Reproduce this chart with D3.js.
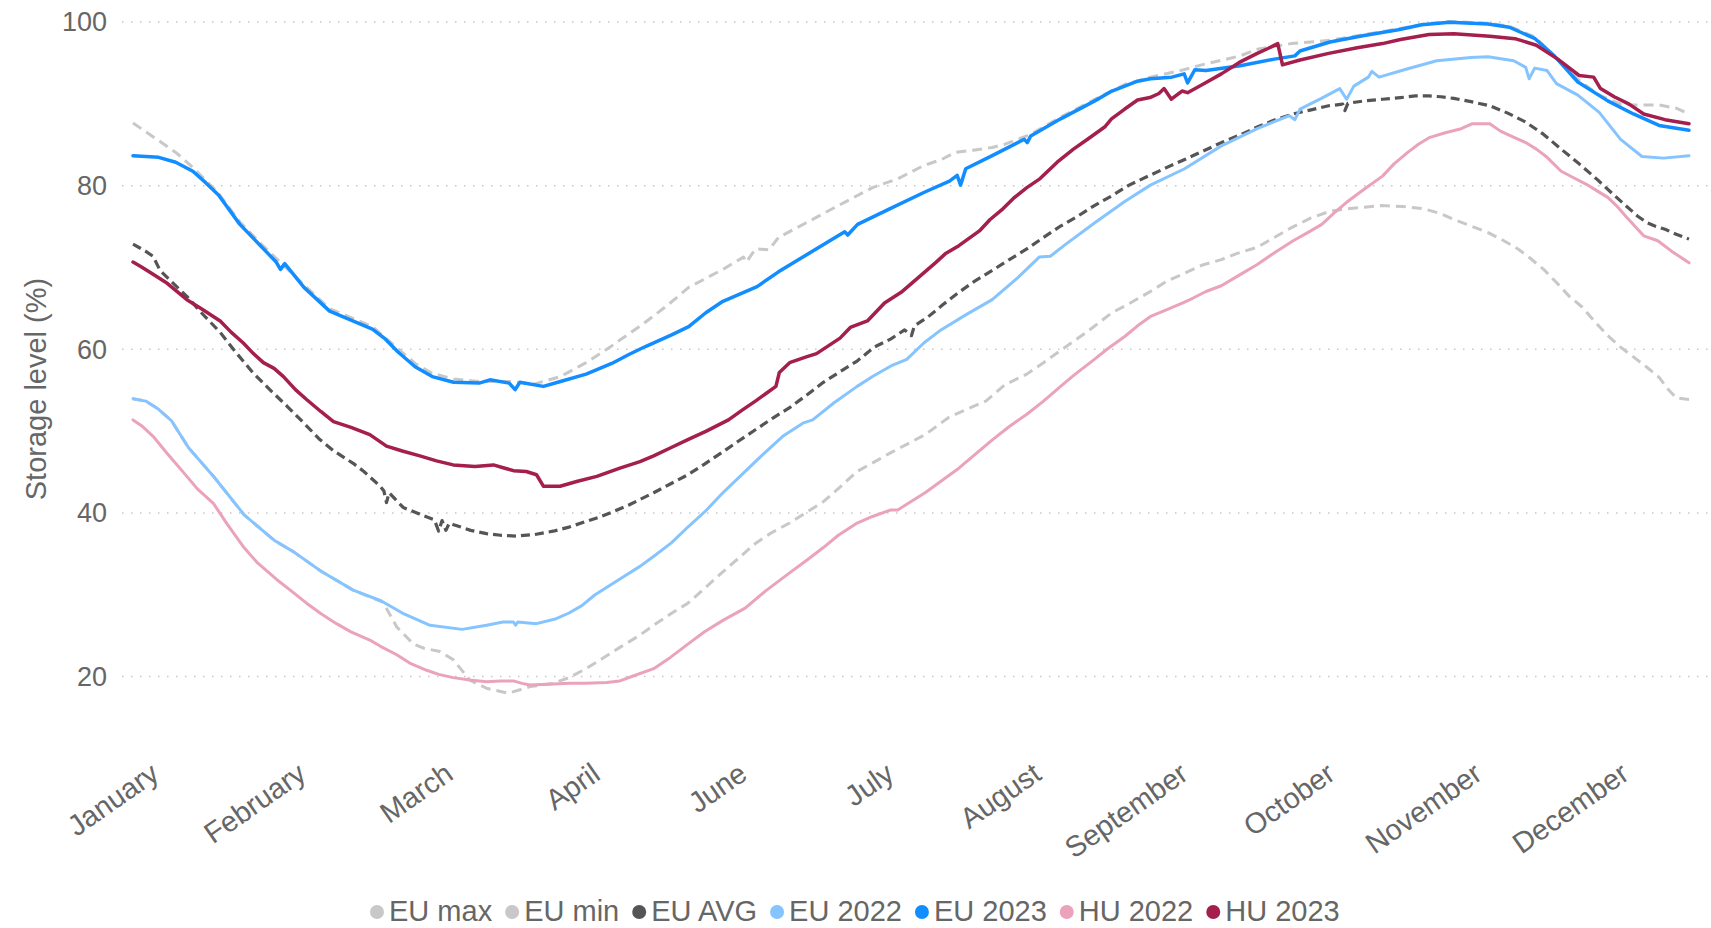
<!DOCTYPE html>
<html><head><meta charset="utf-8">
<script src="https://cdn.jsdelivr.net/npm/d3@7/dist/d3.min.js"></script>
<style>body{margin:0;background:#fff;} svg{display:block;font-family:"Liberation Sans",Arial,sans-serif;}</style>
</head><body><svg id="chart" width="1711" height="928"></svg>
<script>
// ---- data (day of year, storage level %) ----
const monthLabels = ["January","February","March","April","June","July","August","September","October","November","December"];
const yTicks = [20,40,60,80,100];
const seriesNames = ["EU max","EU min","EU AVG","EU 2022","EU 2023","HU 2022","HU 2023"];

const euMax = [[0,87.6],[5,85.8],[10,84.0],[13.7,82.3],[17,80.6],[20,79.0],[25,75.5],[30,72.8],[34,70.8],[40,67.8],[46,64.9],[51,63.8],[56,62.7],[62,60.0],[66,58.2],[70,57.0],[75,56.3],[81,56.0],[88,56.0],[94,55.7],[100,56.6],[106,58.3],[111.6,60.2],[114,61.1],[119,62.9],[125,65.3],[130,67.5],[138,69.7],[142.8,71.2],[143.5,70.6],[145.6,72.2],[148.8,72.1],[151,73.6],[157.5,75.4],[165,77.5],[173,79.7],[179,80.8],[185,82.4],[189,83.1],[192.4,84.0],[197,84.3],[201,84.6],[204,85.0],[210,86.2],[217,88.3],[225,90.5],[232,92.3],[238,93.2],[245,94.0],[250,94.7],[255,95.3],[259,95.8],[263,96.6],[271,97.3],[280,97.7],[288,98.4],[296,99.1],[302,99.7],[308,100.0],[317,99.8],[322,99.4],[328,98.1],[332,96.0],[338,92.9],[343,91.0],[348,89.9],[351,89.8],[357,89.8],[361,89.4],[364,88.7]];

const euMin = [[0,53.9],[3,53.6],[6,52.6],[9,51.2],[13,47.9],[19,44.3],[26,39.7],[33,36.6],[37.5,35.2],[44,32.8],[51.5,30.5],[58.5,29.0],[61.7,26.0],[65.6,23.9],[68,23.4],[71.8,23.0],[74.9,22.0],[78.8,19.5],[82.7,18.5],[87.8,17.9],[92.9,18.7],[98.3,19.1],[102,19.8],[106,20.9],[110,22.2],[113.9,23.5],[118.6,25.0],[121.8,26.2],[125.8,27.6],[129.8,28.9],[133.7,30.7],[137.7,32.6],[145.6,36.2],[149,37.4],[153.6,38.7],[157.5,40.0],[161.5,41.3],[165.4,43.1],[169.4,45.0],[177.3,47.3],[185.3,49.5],[190.8,51.6],[195,52.6],[199.5,53.6],[204,55.6],[209.1,56.9],[213,58.3],[217,59.8],[223,62.0],[229,64.4],[233,65.5],[238,67.0],[242,68.3],[246.3,69.3],[250,70.2],[254.6,70.9],[258,71.6],[263,72.4],[267,73.6],[271,74.8],[275.6,76.0],[280,76.8],[284,77.1],[288,77.3],[292,77.5],[297,77.4],[302,77.1],[306,76.5],[309,75.8],[313,75.0],[317,74.2],[320,73.4],[324,72.2],[327,71.0],[330,69.7],[333,68.1],[336,66.4],[339,65.1],[342,63.3],[345,61.6],[348,60.2],[351,59.0],[354,57.8],[357,56.5],[359,55.1],[361,54.0],[364,53.8]];

const euAvg = [[0,72.8],[3,71.9],[4.7,71.3],[6.3,69.6],[9,68.2],[12.6,66.4],[16,64.4],[20.4,62.0],[24,59.6],[28,57.1],[32,55.0],[36,53.0],[40,50.9],[43.7,48.9],[47,47.5],[51.5,46.0],[54,45.0],[57.8,43.2],[58.7,42.6],[59.3,41.2],[59.9,42.4],[63.2,40.6],[67,39.8],[70.5,39.1],[71.5,37.7],[72.3,39.0],[73.2,37.8],[74,38.7],[75,38.5],[79,37.8],[82.7,37.4],[86,37.2],[89.7,37.1],[94,37.3],[98.3,37.7],[102,38.2],[106,38.9],[109,39.4],[112.4,40.1],[116,40.9],[121.8,42.4],[125.8,43.5],[129.8,44.6],[133.7,45.9],[137.7,47.3],[141.6,48.7],[145.6,50.1],[149.6,51.5],[153.6,52.8],[157.5,54.3],[161.5,55.9],[165.4,57.2],[169.4,58.5],[173.4,60.2],[177.3,61.2],[180.5,62.3],[182.1,61.6],[182.8,62.8],[186,63.9],[189.5,65.4],[193.2,66.9],[197,68.3],[201.1,69.6],[205,70.9],[209.1,72.2],[213,73.6],[217,75.0],[221,76.2],[224.9,77.5],[229,78.7],[233,80.0],[237.9,81.2],[242,82.2],[246.3,83.2],[250.5,84.2],[254.6,85.2],[258.8,86.1],[263,87.1],[267.2,88.0],[271.4,88.7],[275.6,89.2],[279.7,89.7],[283,89.9],[283.5,89.1],[284.2,90.0],[288.1,90.3],[292.3,90.5],[296.5,90.7],[300,90.9],[303.2,90.9],[306,90.8],[309,90.6],[313,90.2],[317.4,89.7],[321.6,88.8],[325.8,87.7],[330,86.2],[334.1,84.4],[338.3,82.6],[342.5,80.7],[345.8,79.1],[349.2,77.5],[352,76.2],[354.2,75.4],[356,75.0],[358.4,74.6],[361,74.0],[364,73.4]];

const eu2022 = [[0,53.9],[3,53.6],[6,52.6],[9,51.2],[13,47.9],[19,44.3],[26,39.7],[33,36.6],[37.5,35.2],[44,32.8],[51.5,30.5],[58,29.2],[63,27.7],[69.5,26.2],[77,25.7],[82.7,26.2],[86.6,26.6],[89,26.6],[89.5,26.2],[90,26.6],[94.4,26.4],[99,27.0],[102,27.7],[105,28.6],[108,29.9],[114,31.9],[118.6,33.4],[122,34.7],[126,36.3],[130,38.3],[134,40.2],[138,42.4],[142,44.4],[147,46.9],[152,49.3],[156.7,50.9],[159,51.3],[164,53.4],[169.4,55.4],[173,56.6],[177.3,57.9],[181,58.7],[185,60.7],[189,62.3],[195,64.2],[201,66.0],[207,68.7],[212,71.2],[214.6,71.3],[218,72.7],[225,75.4],[232,78.0],[238,80.0],[246,82.0],[254.6,84.8],[263,86.9],[270.5,88.5],[271.8,88.0],[273,89.3],[278,90.6],[282.3,91.8],[283.9,90.5],[285.6,92.1],[289,93.2],[289.8,93.9],[291.5,93.2],[298,94.2],[305,95.2],[313,95.6],[317,95.7],[323,95.2],[325.8,94.4],[326.6,93.0],[327.9,94.3],[330.8,94.0],[333,92.4],[338,91.0],[343,88.9],[348,85.6],[353,83.5],[358,83.3],[364,83.6]];

const eu2023 = [[0,83.6],[6,83.4],[10,82.8],[14,81.7],[17,80.3],[20,78.8],[25,75.2],[30,72.5],[33.5,70.6],[34.5,69.7],[35.5,70.4],[40,67.5],[46,64.6],[51,63.5],[56,62.4],[59,61.2],[62,59.6],[66,57.8],[70,56.6],[75,55.9],[81,55.8],[83.5,56.2],[88,55.8],[89.4,55.0],[90.5,55.9],[96,55.4],[100,56.0],[106,56.9],[112,58.2],[116,59.3],[120,60.3],[126,61.7],[130,62.7],[134,64.4],[138,65.8],[146,67.6],[151,69.4],[157,71.3],[163,73.2],[166.5,74.3],[167.2,73.9],[169.5,75.2],[177,77.1],[185,79.1],[191,80.5],[192.8,81.2],[193.6,80.0],[194.8,82.0],[201,83.6],[208.5,85.6],[209.2,85.2],[210,86.0],[217,88.1],[225,90.3],[229,91.5],[235,92.7],[238,93.0],[243,93.2],[245.9,93.6],[246.7,92.5],[248.4,94.1],[251,94.0],[259,94.6],[267,95.4],[271.8,95.8],[273,96.4],[280,97.5],[288,98.3],[296,99.0],[301.5,99.6],[308,99.9],[317,99.7],[322,99.3],[328,97.9],[332.5,95.8],[338,92.6],[345,90.3],[351,88.7],[357,87.3],[364,86.7]];

const hu2022 = [[0,51.3],[2,50.6],[4.7,49.3],[8,47.2],[12.6,44.4],[15,42.9],[18.8,41.1],[22,38.6],[25.8,35.8],[29,33.9],[33.6,31.8],[37,30.4],[40.6,28.9],[44,27.6],[47.6,26.4],[51,25.4],[55.4,24.4],[58,23.6],[61.7,22.6],[65,21.5],[68.7,20.7],[71.5,20.2],[74.9,19.8],[78.8,19.5],[82.7,19.3],[86,19.4],[89,19.4],[91,19.1],[92.9,18.9],[97,19.0],[102.2,19.1],[106,19.1],[110.8,19.2],[113.9,19.4],[117,20.0],[121.8,20.9],[125.8,22.3],[129.8,23.9],[133.7,25.4],[138,26.8],[143.2,28.3],[148,30.4],[153.6,32.6],[158,34.3],[161.5,35.7],[165,37.2],[169.4,38.7],[173,39.5],[177.3,40.3],[178.9,40.3],[181,41.0],[185.3,42.4],[189,43.8],[193.2,45.4],[197,47.1],[201.1,48.9],[205,50.5],[209.1,52.0],[213,53.6],[217,55.4],[220.2,56.8],[224.9,58.7],[228,60.0],[232,61.5],[235,62.8],[238.2,64.0],[242,64.8],[246,65.7],[248,66.2],[251,67.0],[254.6,67.7],[258.8,69.0],[263,70.3],[267.2,71.8],[271.4,73.2],[274.8,74.2],[278.1,75.2],[281,76.6],[283.9,77.9],[288,79.5],[292.3,81.1],[295,82.6],[298.2,84.0],[300.7,85.0],[303.2,85.8],[307,86.4],[310.7,86.9],[313.2,87.5],[317.4,87.5],[319.9,86.6],[322.8,85.9],[325.8,85.2],[328.3,84.4],[330.8,83.4],[334.1,81.7],[337,80.9],[340,80.1],[342.5,79.3],[345,78.5],[347,77.5],[349.2,76.2],[351.3,75.0],[353.4,73.8],[356.7,73.2],[360,71.9],[364,70.5]];

const hu2023 = [[0,70.6],[2,70.0],[4.7,69.1],[8,68.0],[12.6,66.0],[16,64.9],[20.4,63.4],[23,62.0],[25.8,60.7],[28,59.5],[30.5,58.3],[33,57.6],[35.2,56.6],[38,55.0],[40.6,53.8],[44,52.3],[46.9,51.1],[51,50.4],[55.4,49.5],[59.3,48.1],[63,47.5],[67.1,46.9],[71,46.3],[74.9,45.8],[80,45.6],[84.3,45.8],[87,45.4],[89,45.1],[92,45.0],[94.4,44.6],[96,43.2],[99.9,43.2],[104,43.8],[108.5,44.4],[113.9,45.4],[118.6,46.2],[121.8,46.9],[125.8,47.9],[129.8,48.9],[134,49.9],[139.3,51.3],[142.5,52.5],[145.6,53.6],[148,54.5],[150.4,55.4],[151.2,57.1],[153.6,58.3],[157.5,59.0],[159.9,59.4],[163.1,60.5],[165.4,61.3],[167.8,62.6],[171.8,63.4],[175.8,65.6],[179.7,66.9],[183.7,68.7],[187.7,70.5],[190,71.6],[193.2,72.6],[198,74.4],[200.5,75.8],[203.5,77.1],[206,78.4],[209.1,79.7],[212.2,80.8],[216.2,82.8],[220,84.4],[223.3,85.6],[227.3,87.1],[228.9,88.1],[232,89.3],[235,90.4],[237.9,90.7],[240,91.2],[241.2,91.8],[242.9,90.5],[245.4,91.5],[246.7,91.3],[250.5,92.4],[254.6,93.6],[258.8,95.0],[263,96.1],[265.5,96.7],[267.8,97.3],[268.9,94.7],[273,95.3],[279.7,96.1],[286.4,96.8],[292.3,97.3],[296.5,97.8],[303.2,98.4],[309,98.5],[317.4,98.2],[323.3,97.9],[328.3,97.1],[333.3,95.4],[338.3,93.4],[341.7,93.2],[343.3,91.8],[346.5,90.8],[350,89.9],[353.4,88.7],[358.4,88.0],[364,87.5]];

const seriesData = [euMax, euMin, euAvg, eu2022, eu2023, hu2022, hu2023];

// ---- styles ----
const seriesStyle = {
  "EU max": {color:"#C8C8C8", width:3, dash:"10,6"},
  "EU min": {color:"#C8C8C8", width:3, dash:"10,6"},
  "EU AVG": {color:"#555555", width:3.2, dash:"9,5"},
  "EU 2022": {color:"#86C4FF", width:3, dash:null},
  "EU 2023": {color:"#118DFF", width:3.5, dash:null},
  "HU 2022": {color:"#EBA2BC", width:3, dash:null},
  "HU 2023": {color:"#A41E4E", width:3.5, dash:null}
};
const textColor = "#666666";

const svg = d3.select("#chart");
svg.append("rect").attr("width",1711).attr("height",928).attr("fill","#fff");

const x = d3.scaleLinear().domain([0,364]).range([133,1689]);
const y = d3.scaleLinear().domain([20,100]).range([676,21.5]);

// y axis + gridlines
const gy = svg.append("g").attr("transform","translate(122,0)")
  .call(d3.axisLeft(y).tickValues(yTicks).tickSize(-1589).tickPadding(15));
gy.select(".domain").remove();
gy.selectAll(".tick line").attr("stroke","#C8C8C8").attr("stroke-width",1.5).attr("stroke-dasharray","1.5,7.5");
gy.selectAll(".tick text").attr("fill",textColor).style("font-size","27px").attr("dy","0.35em");

// x axis (month labels)
const xm = d3.scalePoint().domain(monthLabels).range([160.5,1630.5]);
const gx = svg.append("g").attr("transform","translate(0,778)")
  .call(d3.axisBottom(xm).tickSize(0).tickPadding(0));
gx.select(".domain").remove();
gx.selectAll(".tick text").attr("fill",textColor).style("font-size","29px")
  .attr("x",0).attr("y",0).attr("dy",0).attr("text-anchor","end").attr("transform","rotate(-35)");

// y title
svg.append("text").attr("transform","translate(36,389) rotate(-90)")
  .attr("text-anchor","middle").attr("dominant-baseline","central")
  .attr("fill",textColor).style("font-size","29px").text("Storage level (%)");

// lines
const line = d3.line().x(d=>x(d[0])).y(d=>y(d[1]));
seriesNames.forEach((name,i)=>{
  const st = seriesStyle[name];
  svg.append("path").datum(seriesData[i])
    .attr("fill","none").attr("stroke",st.color).attr("stroke-width",st.width)
    .attr("stroke-linejoin","round").attr("stroke-linecap", st.dash ? "butt" : "round")
    .attr("stroke-dasharray", st.dash)
    .attr("d", line);
});

// legend
const lg = svg.append("g");
let cursor = 0;
seriesNames.forEach(name=>{
  const it = lg.append("g");
  it.append("circle").attr("cx",cursor+7).attr("cy",912).attr("r",7).attr("fill",seriesStyle[name].color);
  const t = it.append("text").attr("x",cursor+19).attr("y",911).attr("dominant-baseline","central")
    .attr("fill",textColor).style("font-size","29px").text(name);
  cursor += 19 + t.node().getComputedTextLength() + 13;
});
const total = cursor - 13;
lg.attr("transform",`translate(${Math.round(855 - total/2)},0)`);
</script></body></html>
